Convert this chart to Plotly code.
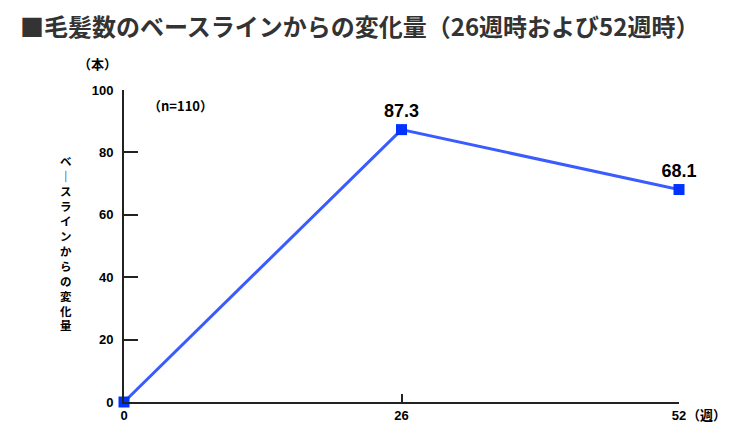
import plotly.graph_objects as go

# 毛髪数のベースラインからの変化量
weeks = [0, 26, 52]
change = [0, 87.3, 68.1]
point_labels = ["", "87.3", "68.1"]
y_ticks = [0, 20, 40, 60, 80, 100]
x_ticks = [0, 26, 52]

# the page body has an 8px margin, so the figure is a bit smaller than the window
OFF = 8
W, H = 740 - OFF, 440 - OFF
L, R, T, B = 124 - OFF, 61, 90 - OFF, 38


def paper(px, py):
    # pixel position in the window -> paper coordinates
    fx, fy = px - OFF, py - OFF
    return (fx - L) / (W - L - R), (H - B - fy) / (H - T - B)


fig = go.Figure()
fig.add_trace(go.Scatter(
    x=weeks, y=change,
    mode="lines+markers+text",
    line=dict(color="#3a5cff", width=3),
    marker=dict(symbol="square", size=11, color="#0033ff"),
    text=point_labels,
    textposition="top center",
    textfont=dict(family="Liberation Sans, Arial", size=18, color="#000", weight="bold"),
    cliponaxis=False,
    hoverinfo="skip",
))

anns = []
tx, ty = paper(18, 25)
anns.append(dict(x=tx, y=ty, text="■毛髪数のベースラインからの変化量（26週時および52週時）",
                 xanchor="left", yanchor="middle",
                 font=dict(family="Noto Sans CJK JP", size=24, color="#333", weight="bold")))
hx, hy = paper(97, 63)
anns.append(dict(x=hx, y=hy, text="（本）", xanchor="center", yanchor="middle",
                 font=dict(family="Noto Sans CJK JP", size=13, color="#000", weight="bold")))
nx, ny = paper(180, 105)
anns.append(dict(x=nx, y=ny, text="（n=110）", xanchor="center", yanchor="middle",
                 font=dict(family="Noto Sans CJK JP", size=13, color="#000", weight="bold")))
wx, wy = paper(706, 414)
anns.append(dict(x=wx, y=wy, text="（週）", xanchor="center", yanchor="middle",
                 font=dict(family="Noto Sans CJK JP", size=13, color="#000", weight="bold")))
vx, vy = paper(66, 243)
# written top to bottom, the long vowel mark stands upright
vertical = "ベ｜スラインからの変化量"
anns.append(dict(x=vx, y=vy, text="<br>".join(vertical), xanchor="center", yanchor="middle",
                 font=dict(family="Noto Sans CJK JP", size=11.5, color="#000", weight="bold")))
for a in anns:
    a.update(xref="paper", yref="paper", showarrow=False)

fig.update_layout(
    width=W, height=H,
    margin=dict(l=L, r=R, t=T, b=B),
    paper_bgcolor="white", plot_bgcolor="white",
    showlegend=False,
    annotations=anns,
    xaxis=dict(
        range=[0, 52], tickvals=x_ticks, ticktext=[str(v) for v in x_ticks],
        showline=True, linecolor="#222", linewidth=2,
        ticks="inside", ticklen=8, tickcolor="#222", tickwidth=1.5,
        showgrid=False, zeroline=False,
        tickfont=dict(family="Liberation Sans, Arial", size=13, color="#000", weight="bold"),
    ),
    yaxis=dict(
        range=[0, 100], tickvals=y_ticks,
        showline=True, linecolor="#222", linewidth=2,
        ticks="inside", ticklen=14, tickcolor="#222", tickwidth=1.5,
        showgrid=False, zeroline=False,
        ticklabelstandoff=6,
        tickfont=dict(family="Liberation Sans, Arial", size=13, color="#000", weight="bold"),
    ),
)

fig.write_html("out.html")
